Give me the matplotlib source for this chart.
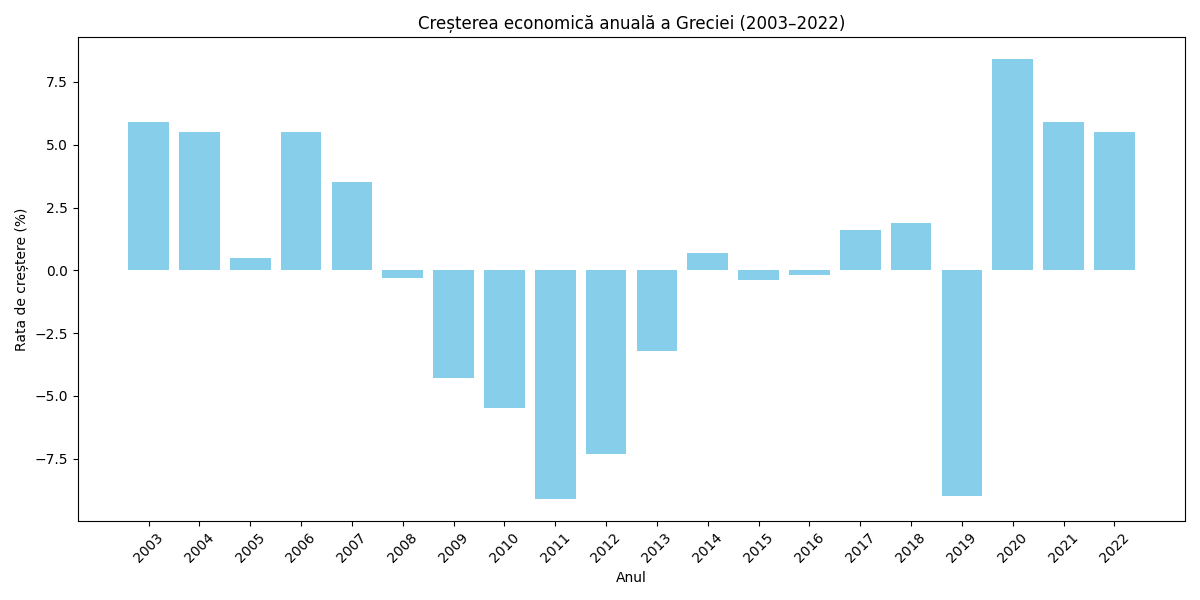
import matplotlib.pyplot as plt

years = [str(y) for y in range(2003, 2023)]
growth = [5.9, 5.5, 0.5, 5.5, 3.5, -0.3, -4.3, -5.5, -9.1, -7.3,
          -3.2, 0.7, -0.4, -0.2, 1.6, 1.9, -9.0, 8.4, 5.9, 5.5]

fig, ax = plt.subplots(figsize=(12, 6), dpi=100)
ax.bar(years, growth, color='skyblue')
ax.set_title('Creșterea economică anuală a Greciei (2003–2022)')
ax.set_xlabel('Anul')
ax.set_ylabel('Rata de creștere (%)')
plt.xticks(rotation=45)
plt.tight_layout()
plt.savefig('out.png')
